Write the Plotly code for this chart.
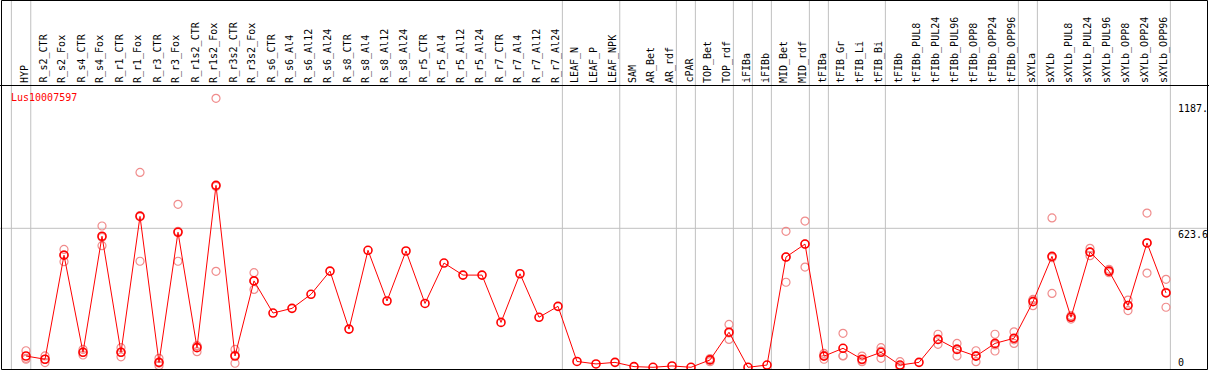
import plotly.graph_objects as go

gene = "Lus10007597"

categories = [
    "HYP", "R_s2_CTR", "R_s2_Fox", "R_s4_CTR", "R_s4_Fox", "R_r1_CTR", "R_r1_Fox",
    "R_r3_CTR", "R_r3_Fox", "R_r1s2_CTR", "R_r1s2_Fox", "R_r3s2_CTR", "R_r3s2_Fox",
    "R_s6_CTR", "R_s6_Al4", "R_s6_Al12", "R_s6_Al24", "R_s8_CTR", "R_s8_Al4",
    "R_s8_Al12", "R_s8_Al24", "R_r5_CTR", "R_r5_Al4", "R_r5_Al12", "R_r5_Al24",
    "R_r7_CTR", "R_r7_Al4", "R_r7_Al12", "R_r7_Al24", "LEAF_N", "LEAF_P", "LEAF_NPK",
    "SAM", "AR_Bet", "AR_rdf", "cPAR", "TOP_Bet", "TOP_rdf", "iFIBa", "iFIBb",
    "MID_Bet", "MID_rdf", "tFIBa", "tFIB_Gr", "tFIB_Li", "tFIB_Bi", "tFIBb",
    "tFIBb_PUL8", "tFIBb_PUL24", "tFIBb_PUL96", "tFIBb_OPP8", "tFIBb_OPP24",
    "tFIBb_OPP96", "sXYLa", "sXYLb", "sXYLb_PUL8", "sXYLb_PUL24", "sXYLb_PUL96",
    "sXYLb_OPP8", "sXYLb_OPP24", "sXYLb_OPP96",
]

means = [
    51.5, 37, 503, 68, 588, 68, 677, 23, 606, 89, 816, 51.5, 388,
    244, 265, 328, 432, 172, 525, 298, 522, 287, 468, 414, 414, 202, 420, 225, 274,
    27, 16, 23, 4, 1, 7, 1, 34, 158, 1, 11, 495, 553,
    51, 86, 37, 68, 11, 23, 126, 81, 51, 108, 131,
    295, 498, 225, 517, 432, 278, 558, 334,
]

N = None
rep_a = [
    75, 52, 529, 81, 634, 89, 874, 41, 731, 98, 1206, 81, 425,
    N, N, N, N, N, N, N, N, N, N, N, N, N, N, N, N,
    N, N, N, N, N, N, N, 40, 193, N, N, 610, 656,
    63, 153, 51, 89, 26, N, 149, 108, 75, 149, 160,
    305, 670, 232, 534, 440, 302, 692, 395,
]
rep_b = [
    37, 22, 474, 56, 546, 48, 476, 8, 476, 71, 431, 19, 350,
    N, N, N, N, N, N, N, N, N, N, N, N, N, N, N, N,
    N, N, N, N, N, N, N, 26, 126, N, N, 382, 450,
    37, 53, 26, 41, 4, N, 104, 51.5, 26, 74, 108,
    277, 332, 217, 501, 425, 255, 423, 270,
]
rep_c = [
    41, 37, 505, 68, 583, 68, 681, 20, 610, 96, 811, 55, 388,
    N, N, N, N, N, N, N, N, N, N, N, N, N, N, N, N,
    N, N, N, N, N, N, N, 34, 155, N, N, 495, 553,
    55, 52, 34, 74, 3, N, 125, 83, 53, 101, 124,
    303, 492, 226, 517, 431, 278, 559, 337,
]

# group separators (positions in category-index units)
group_breaks = [-0.77, 0.25, 28.23, 31.25, 34.23, 35.23, 37.23, 38.23, 39.23,
                41.23, 42.23, 45.23, 52.23, 53.23, 60.23]

ytick_vals = [0, 623.6, 1187]
ytick_text = ["0", "623.6", "1187."]

# ---- geometry (pixels) ----
W, H = 1209, 370
X0PX, DXPX = 26.0, 19.0          # pixel x of first column, column spacing
Y0PX, PXU = 367.5, 0.2232         # pixel y of value 0, pixels per unit
xrange = [-X0PX / DXPX, (W - X0PX) / DXPX]
yrange = [-(H - Y0PX) / PXU, Y0PX / PXU]


def px_x(p):
    return p / W


def px_y(p):
    return 1 - p / H


FONT = "DejaVu Sans Mono"
GRAY = "#c0c0c0"

fig = go.Figure()

rep_color = "#f08c8c"
for reps in (rep_a, rep_b, rep_c):
    fig.add_trace(go.Scatter(
        x=categories, y=reps, mode="markers",
        marker=dict(symbol="circle-open", size=8, color=rep_color,
                    line=dict(width=1.2, color=rep_color)),
        showlegend=False, hoverinfo="skip",
    ))

fig.add_trace(go.Scatter(
    x=categories, y=means, mode="lines+markers",
    line=dict(color="red", width=1),
    marker=dict(symbol="circle-open", size=8, color="red",
                line=dict(width=1.6, color="red")),
    showlegend=False,
))

shapes = []
for b in group_breaks:
    shapes.append(dict(type="line", xref="x", yref="paper", x0=b, x1=b, y0=0, y1=1,
                       line=dict(color=GRAY, width=1), layer="below"))
shapes.append(dict(type="line", xref="paper", yref="y", x0=0, x1=px_x(1207.5),
                   y0=ytick_vals[1], y1=ytick_vals[1],
                   line=dict(color=GRAY, width=1), layer="below"))
# header separator and frame
shapes.append(dict(type="line", xref="paper", yref="paper", x0=0, x1=1,
                   y0=px_y(85.5), y1=px_y(85.5), line=dict(color="black", width=1)))
shapes.append(dict(type="rect", xref="paper", yref="paper",
                   x0=px_x(1.5), x1=px_x(1207.5), y0=px_y(369.5), y1=px_y(0.5),
                   line=dict(color="black", width=1)))

annotations = []
for c in categories:
    annotations.append(dict(
        x=c, xref="x", y=px_y(85), yref="paper", text=c, showarrow=False,
        textangle=-90, xanchor="center", yanchor="bottom", xshift=-2,
        font=dict(family=FONT, size=10, color="black"),
    ))

annotations.append(dict(
    x=px_x(9), y=px_y(97), xref="paper", yref="paper", text=gene,
    showarrow=False, xanchor="left", yanchor="middle",
    font=dict(family=FONT, size=10, color="red"),
))

for v, t in zip(ytick_vals, ytick_text):
    ypx = Y0PX - v * PXU
    if v == 0:
        yp = px_y(355)
    else:
        yp = px_y(ypx - 1.5)
    annotations.append(dict(
        x=px_x(1176), y=yp, xref="paper", yref="paper", text=t,
        showarrow=False, xanchor="left", yanchor="top",
        font=dict(family=FONT, size=10, color="black"),
    ))

fig.update_layout(
    width=W, height=H,
    margin=dict(l=0, r=0, t=0, b=0),
    paper_bgcolor="white", plot_bgcolor="white",
    xaxis=dict(type="category", range=xrange, visible=False,
               showgrid=False, zeroline=False, fixedrange=True),
    yaxis=dict(range=yrange, visible=False, showgrid=False, zeroline=False,
               fixedrange=True),
    shapes=shapes, annotations=annotations,
    showlegend=False,
)

fig.write_html(
    "out.html",
    config={"displayModeBar": False},
    post_script="document.body.style.margin='0';document.body.style.overflow='hidden';",
)
